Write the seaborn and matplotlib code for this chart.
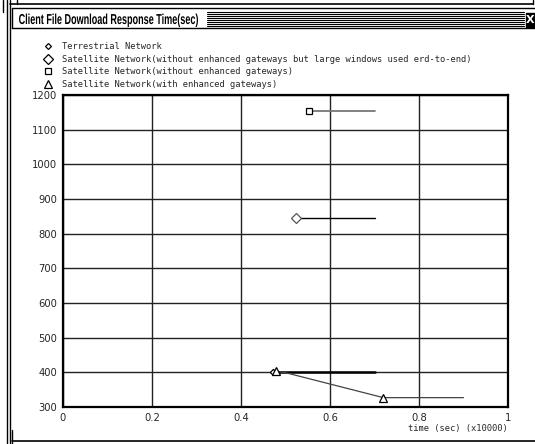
import numpy as np
import matplotlib
matplotlib.use("Agg")
import matplotlib.pyplot as plt
import seaborn as sns
from matplotlib.lines import Line2D
from matplotlib.patches import Rectangle, PathPatch
from matplotlib.textpath import TextPath
from matplotlib.font_manager import FontProperties
from matplotlib.transforms import Affine2D, IdentityTransform

# series (x in units of 10000 sec)
terr_x = [0.473, 0.70]
terr_y = [400, 400]
large_win_x = [0.523, 0.70]
large_win_y = [845, 845]
no_gw_x = [0.553, 0.70]
no_gw_y = [1155, 1155]
gw_x = [0.478, 0.50, 0.72, 0.90]
gw_y = [403, 399, 327, 327]

legend_labels = [
    "Terrestrial Network",
    "Satellite Network(without enhanced gateways but large windows used erd-to-end)",
    "Satellite Network(without enhanced gateways)",
    "Satellite Network(with enhanced gateways)",
]
x_ticks = [0, 0.2, 0.4, 0.6, 0.8, 1]
x_tick_labels = ["0", "0.2", "0.4", "0.6", "0.8", "1"]
y_ticks = [300, 400, 500, 600, 700, 800, 900, 1000, 1100, 1200]
title = "Client File Download Response Time(sec)"

W, H = 535, 444
sns.set_style("white")
plt.rcParams["font.family"] = ["DejaVu Sans"]

fig = plt.figure(figsize=(W / 100, H / 100), dpi=100)


def fx(x):
    return x / W


def fy(y):
    return 1 - y / H


def hline(x0, x1, y, lw=1.0, color="k"):
    fig.add_artist(Line2D([fx(x0), fx(x1)], [fy(y), fy(y)], lw=lw, color=color))


def vline(x, y0, y1, lw=1.0, color="k"):
    fig.add_artist(Line2D([fx(x), fx(x)], [fy(y0), fy(y1)], lw=lw, color=color))


# window frame
vline(2.5, 0, 12)
vline(7, 0, 444)
vline(10, 0, 444)
vline(17, 0, 4)
hline(10, 533, 4, lw=1.2)
vline(533, 0, 4)
hline(12, 535, 8)
hline(12, 535, 28)
vline(12, 8, 28)
hline(12, 535, 441, lw=1.2)
vline(12, 430, 444)
for yy in np.arange(12, 27, 2):
    hline(207, 524, yy, lw=0.8)
fig.add_artist(Rectangle((fx(526), fy(27)), fx(9), 14 / H, facecolor="k",
                         edgecolor="k", transform=fig.transFigure))
fig.text(fx(530.5), fy(20), "X", color="white", fontsize=8, fontweight="bold",
         ha="center", va="center")

# condensed bold title drawn as a squeezed text path (pixel units)
tp = TextPath((0, 0), title, size=12,
              prop=FontProperties(family="Liberation Sans", weight="bold"))
bb = tp.get_extents()
sx = (198 - 19) / bb.width
sy = 1.2
tr = Affine2D().scale(sx, sy).translate(19 - bb.x0 * sx, H - 24)
fig.add_artist(PathPatch(tr.transform_path(tp), facecolor="k", edgecolor="none",
                         transform=IdentityTransform()))

# legend
mono = ["DejaVu Sans Mono"]
leg_rows = [46, 59, 71, 84]
leg_markers = [("D", 3.0), ("D", 5.2), ("s", 4.3), ("^", 5.8)]
for (m, s), row, lab in zip(leg_markers, leg_rows, legend_labels):
    fig.add_artist(Line2D([fx(48)], [fy(row)], marker=m, markersize=s,
                          markerfacecolor="white", markeredgecolor="k",
                          markeredgewidth=0.9, linestyle="none"))
    fig.text(fx(62), fy(row), lab, family=mono, fontsize=6.3,
             ha="left", va="center")

ax = fig.add_axes([fx(63), fy(407), fx(508 - 63), (407 - 95) / H])

sns.lineplot(x=terr_x, y=terr_y, ax=ax, color="k", lw=1.8, sort=False,
             marker="D", markersize=3.2, markevery=[0], markerfacecolor="white",
             markeredgecolor="k", markeredgewidth=0.9)
sns.lineplot(x=large_win_x, y=large_win_y, ax=ax, color="k", lw=1.0, sort=False,
             marker="D", markersize=5.0, markevery=[0], markerfacecolor="white",
             markeredgecolor="#555555", markeredgewidth=0.9)
sns.lineplot(x=no_gw_x, y=no_gw_y, ax=ax, color="#777777", lw=1.3, sort=False,
             marker="s", markersize=4.5, markevery=[0], markerfacecolor="white",
             markeredgecolor="k", markeredgewidth=0.9)
sns.lineplot(x=gw_x, y=gw_y, ax=ax, color="#444444", lw=0.9, sort=False,
             marker="^", markersize=5.5, markevery=[0, 2], markerfacecolor="white",
             markeredgecolor="k", markeredgewidth=0.9)

ax.set_xlim(0, 1)
ax.set_ylim(300, 1200)
ax.set_xticks(x_ticks)
ax.set_xticklabels(x_tick_labels)
ax.set_yticks(y_ticks)
ax.grid(True, color="#222222", lw=1.0)
ax.tick_params(length=0, labelsize=7.2, pad=4)
for sp in ax.spines.values():
    sp.set_color("k")
    sp.set_linewidth(1.6)
ax.set_xlabel("")
ax.set_ylabel("")
fig.text(fx(508), fy(428), "time (sec) (x10000)", family=mono, fontsize=6.3,
         ha="right", va="center")

fig.savefig("out.png", dpi=100)
